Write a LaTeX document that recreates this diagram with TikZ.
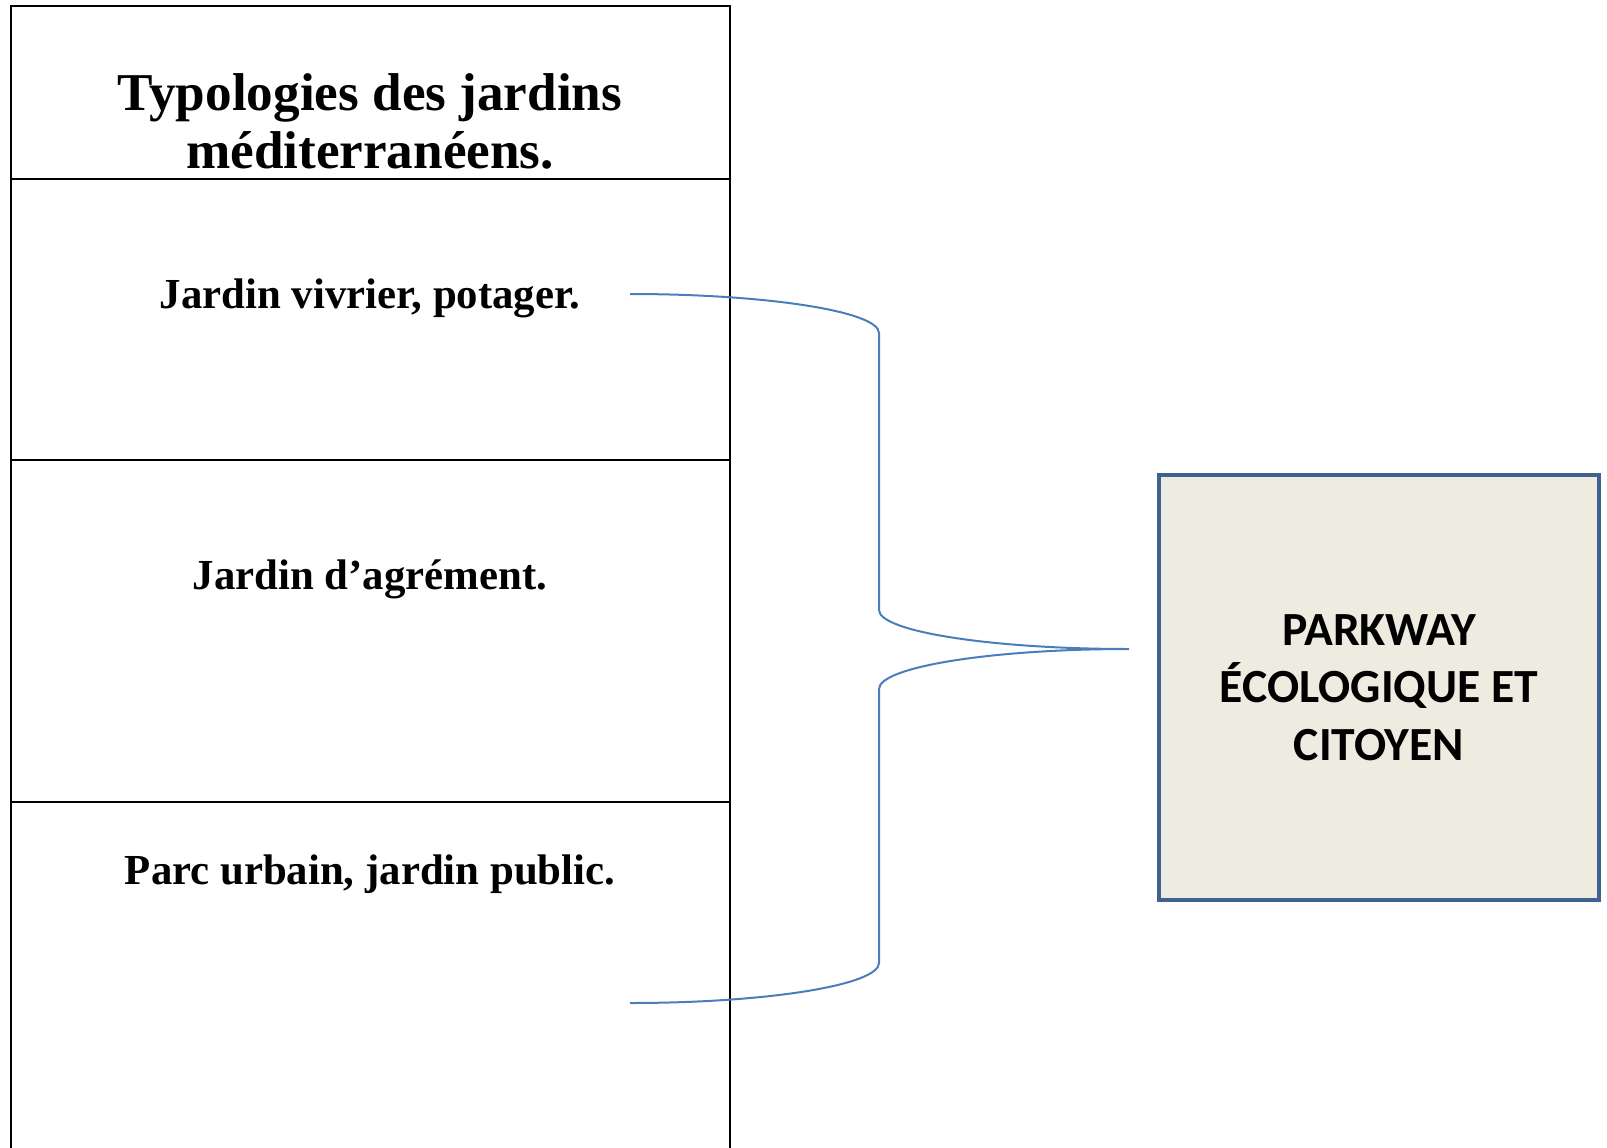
\documentclass[tikz,border=0pt]{standalone}
\usepackage{fontspec}
\setmainfont{Liberation Serif}
\newfontfamily\carlito{Carlito}
\definecolor{bracecol}{HTML}{4A7EBB}
\definecolor{boxline}{HTML}{3F6190}
\definecolor{boxfill}{HTML}{EEECE1}

\begin{document}
\begin{tikzpicture}[x=1pt, y=-1pt,
    cell/.style={draw, line width=2.2pt, minimum width=719, inner sep=0},
    titletext/.style={align=center, font=\fontsize{53.2}{58}\selectfont\bfseries},
    rowtext/.style={font=\fontsize{42.8}{48}\selectfont\bfseries},
    brace/.style={draw=bracecol, line width=2pt},
    parkbox/.style={draw=boxline, fill=boxfill, line width=4pt, align=center,
        minimum width=440, minimum height=425,
        font=\carlito\fontsize{47.6}{57.5}\selectfont\bfseries}]
  \useasboundingbox (0,0) rectangle (1607,1148);

  % table of garden types
  \node[cell, minimum height=173] (head) at (370.5,92.5) {};
  \node[cell, minimum height=281] (row1) at (370.5,319.5) {};
  \node[cell, minimum height=342] (row2) at (370.5,631) {};
  \node[cell, minimum height=368] (row3) at (370.5,986) {};

  \node[titletext] (titre) at (370,121) {Typologies des jardins\\méditerranéens.};
  \node[rowtext] (vivrier) at (370,298) {Jardin vivrier, potager.};
  \node[rowtext] (agrement) at (370,579.5) {Jardin d’agrément.};
  \node[rowtext] (parc) at (370,874) {Parc urbain, jardin public.};

  % parkway box
  \node[parkbox] (parkway) at (1379,687.5) {PARKWAY\\ÉCOLOGIQUE ET\\CITOYEN};

  % brace
  \coordinate (bhaut) at (630,294);
  \coordinate (bpointe) at (1129,649);
  \coordinate (bbas) at (630,1003);
  \draw[brace] (bhaut) .. controls +(137,0) and +(0,-21.5) .. (879,333)
        -- (879,610) .. controls +(0,21.5) and +(-138,0) .. (bpointe)
        .. controls +(-138,0) and +(0,-22) .. (879,689)
        -- (879,963) .. controls +(0,22) and +(137,0) .. (bbas);
\end{tikzpicture}
\end{document}
